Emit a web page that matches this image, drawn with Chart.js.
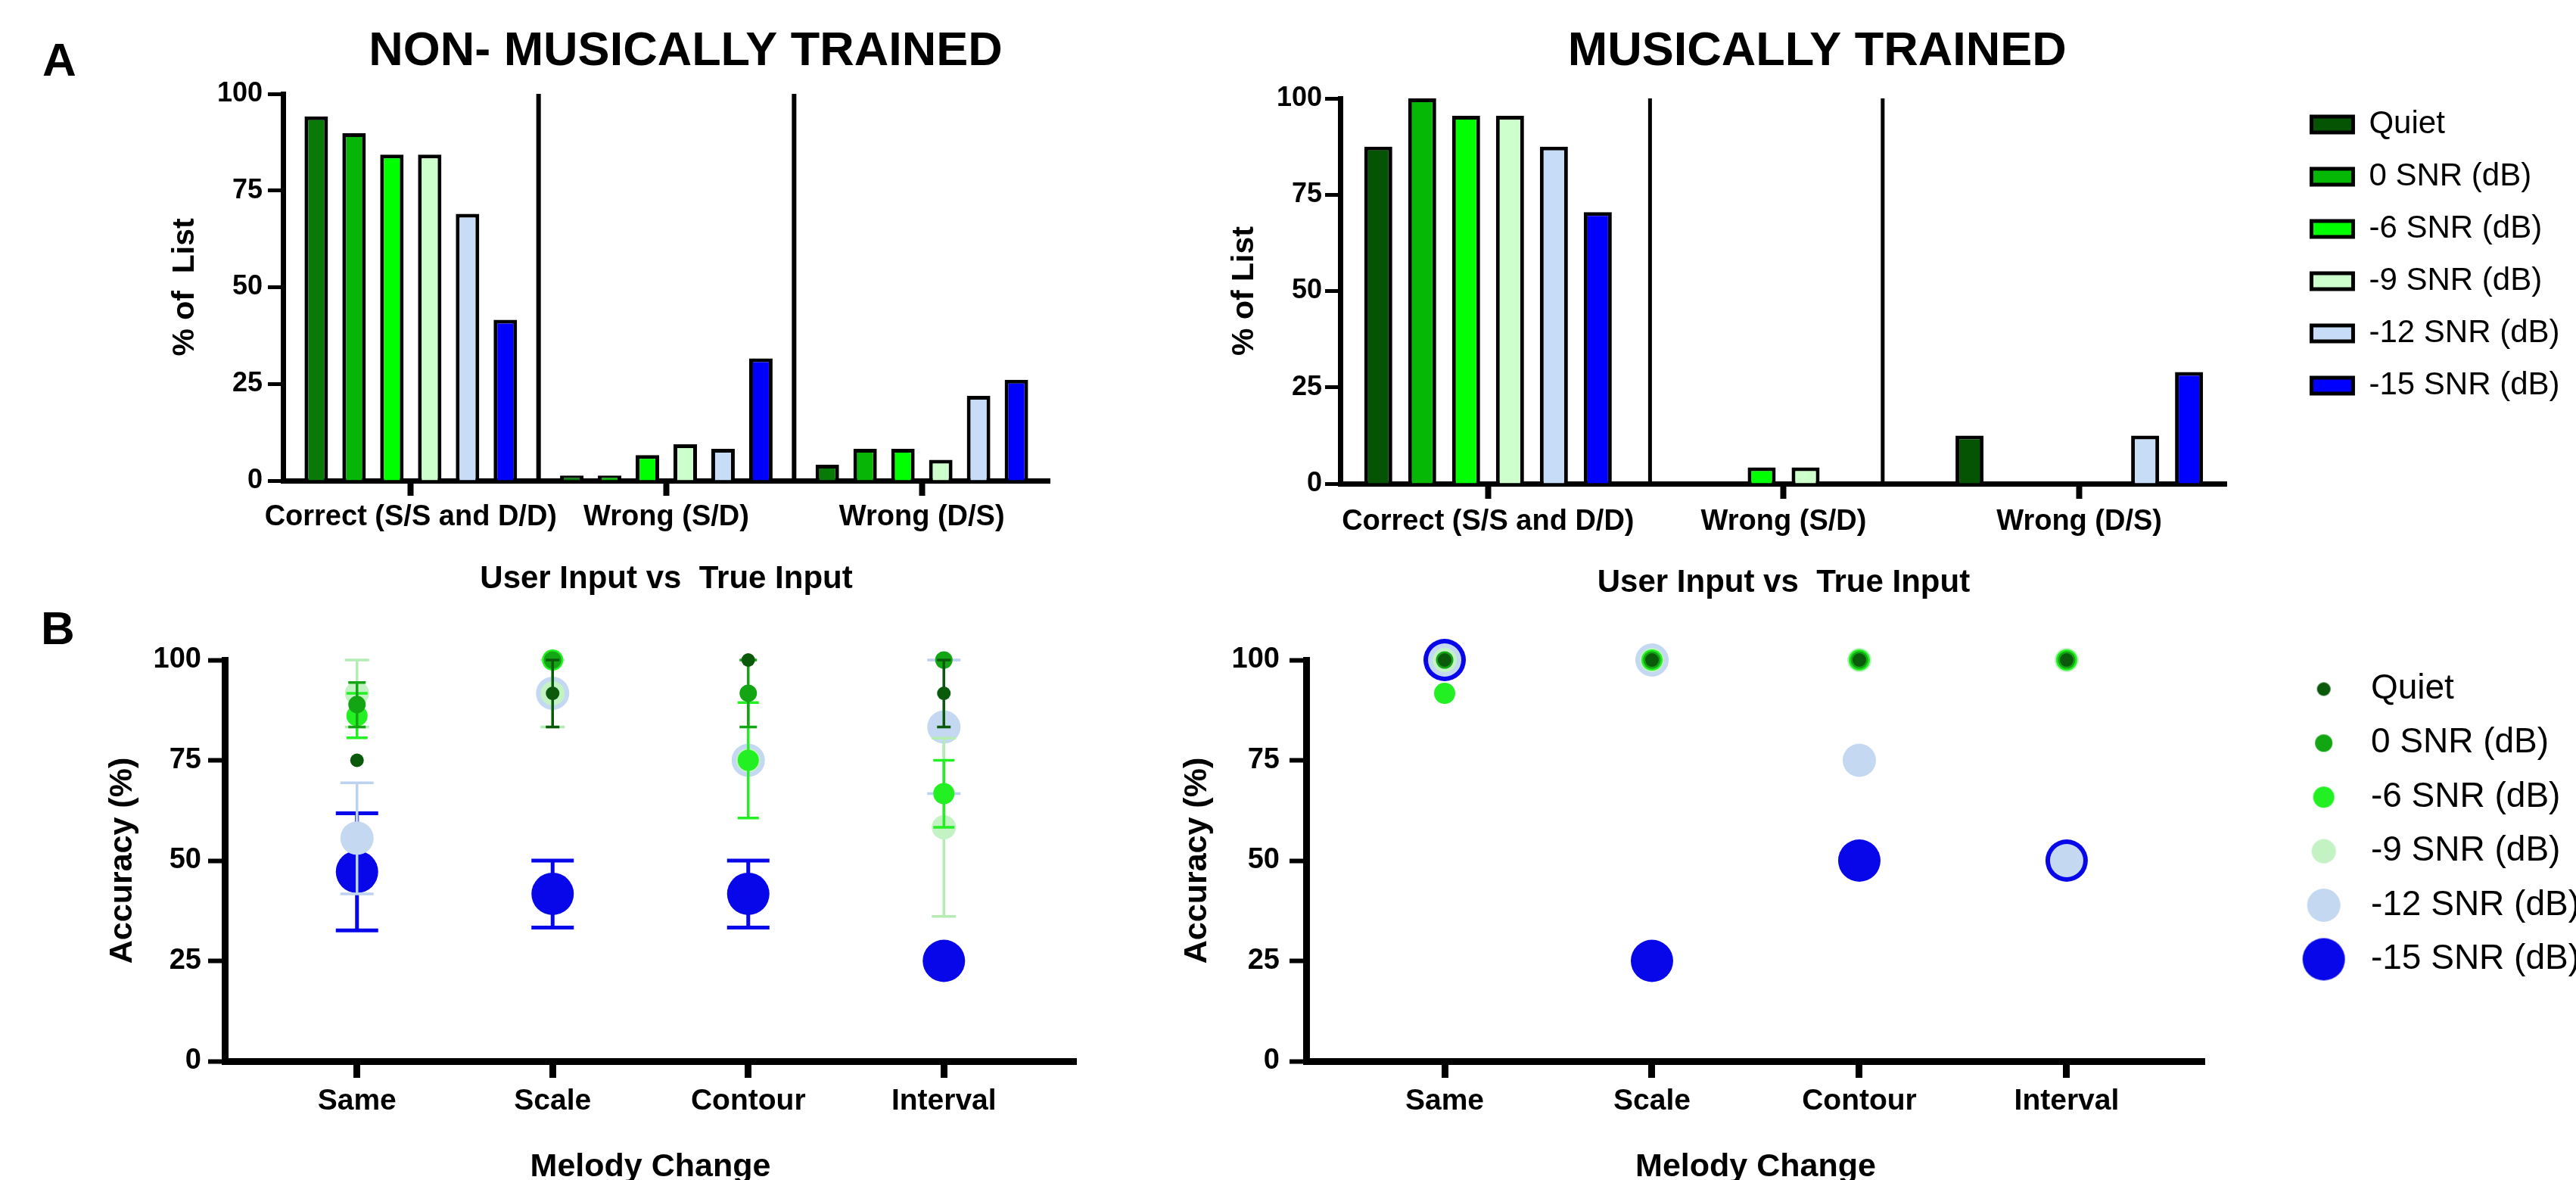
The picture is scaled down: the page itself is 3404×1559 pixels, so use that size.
<!DOCTYPE html>
<html>
<head>
<meta charset="utf-8">
<script src="https://cdn.jsdelivr.net/npm/chart.js@4.4.1/dist/chart.umd.min.js"></script>
<style>
  html, body { margin: 0; padding: 0; background: #fff; width: 3404px; height: 1559px; overflow: hidden; }
  canvas { position: absolute; }
  .letter { position: absolute; font: bold 62px "Liberation Sans", Arial, sans-serif; line-height: 62px; color: #000; }
</style>
</head>
<body>
<div class="letter" style="left:56px; top:48px">A</div>
<div class="letter" style="left:54px; top:799px">B</div>
<canvas id="bars-non" width="1812" height="800" style="left:0; top:0"></canvas>
<canvas id="bars-mus" width="1994" height="800" style="left:1410px; top:0"></canvas>
<canvas id="acc-non" width="1450" height="800" style="left:0; top:800px"></canvas>
<canvas id="acc-mus" width="1924" height="800" style="left:1500px; top:800px"></canvas>
<script>
var conditions = ['Quiet', '0 SNR (dB)', '-6 SNR (dB)', '-9 SNR (dB)', '-12 SNR (dB)', '-15 SNR (dB)'];
var responseTypes = ['Correct (S/S and D/D)', 'Wrong (S/D)', 'Wrong (D/S)'];
var melodyChanges = ['Same', 'Scale', 'Contour', 'Interval'];

// % of list, one row per condition: [correct, wrong S/D, wrong D/S]
var nonTrainedList = [
  [94.2, 1.3, 4.1],
  [89.8, 1.3, 8.2],
  [84.3, 6.6, 8.2],
  [84.3, 9.4, 5.4],
  [69.0, 8.2, 21.9],
  [41.6, 31.6, 26.1]
];
var musTrainedList = [
  [87.5, 0, 12.5],
  [100, 0, 0],
  [95.5, 4.2, 0],
  [95.5, 4.2, 0],
  [87.5, 0, 12.5],
  [70.5, 0, 29.0]
];

// accuracy (%), one row per condition: [Same, Scale, Contour, Interval]
var nonAccuracy = [
  [75, 91.7, 100, 91.7],
  [88.9, 100, 91.7, 100],
  [86.1, 100, 75, 66.7],
  [91.7, 91.7, 75, 58.3],
  [55.6, 91.7, 75, 83.3],
  [47.2, 41.7, 41.7, 25]
];
var nonAccLow = [
  [null, 83.3, null, 83.3],
  [83.3, null, 83.3, null],
  [80.6, null, 60.6, 58.3],
  [83.3, 83.3, null, 36.1],
  [41.7, null, null, 66.7],
  [32.6, 33.3, 33.3, null]
];
var nonAccHigh = [
  [null, 100, null, 100],
  [94.4, null, 100, null],
  [91.7, null, 89.4, 75],
  [100, 100, null, 80.5],
  [69.4, null, null, 100],
  [61.8, 50, 50, null]
];
var musAccuracy = [
  [100, 100, 100, 100],
  [100, 100, 100, 100],
  [91.7, 100, 100, 100],
  [100, 100, 100, 100],
  [100, 100, 75, 50],
  [100, 25, 50, 50]
];

// where the group dividers sit, in category steps
var nonDividers = [0.5, 1.5];
var musDividers = [0.548, 1.335];

var nonBarColors = ['#087a08', '#07b507', '#00ff00', '#ccffcc', '#c7dcf6', '#0000ff'];
var musBarColors = ['#045404', '#05b805', '#00ff00', '#ccffcc', '#c7dcf6', '#0000ff'];
var dotColors = ['#0b5a0b', '#14a514', '#22f022', '#c3f2c3', '#c4d8f2', '#0707ea'];
var errColors = ['#0b5a0b', '#14a514', '#22f022', '#b4ecb4', '#bcd2f0', '#0707ea'];
var dotRadius = [9, 11.5, 14, 16, 22, 28];
var errWidth = [3.5, 3.5, 3.5, 3.5, 3.5, 5];

Chart.defaults.font.family = '"Liberation Sans", Arial, sans-serif';
Chart.defaults.color = '#000';
Chart.defaults.animation = false;
Chart.defaults.events = [];
Chart.defaults.plugins.tooltip.enabled = false;

function bold(size) { return { size: size, weight: 'bold' }; }
function fixWidth(w) { return function (s) { s.width = w; }; }
function fixHeight(h) { return function (s) { s.height = h; }; }

// an axis that only takes room
function spacer(position, size) {
  var vertical = position === 'left' || position === 'right';
  return {
    type: 'linear', position: position, display: true,
    grid: { display: false }, border: { display: false }, ticks: { display: false },
    afterFit: vertical ? fixWidth(size) : fixHeight(size)
  };
}

function dividers(at, width) {
  return {
    id: 'dividers',
    afterDatasetsDraw: function (chart) {
      var x = chart.scales.x, y = chart.scales.y, ctx = chart.ctx;
      var x0 = x.getPixelForValue(0), step = x.getPixelForValue(1) - x0;
      ctx.save();
      ctx.strokeStyle = '#000';
      ctx.lineWidth = width;
      at.forEach(function (v) {
        ctx.beginPath();
        ctx.moveTo(x0 + v * step, y.getPixelForValue(100));
        ctx.lineTo(x0 + v * step, y.getPixelForValue(0));
        ctx.stroke();
      });
      ctx.restore();
    }
  };
}

var errorBars = {
  id: 'errorBars',
  beforeDatasetDraw: function (chart, args) {
    var ds = chart.data.datasets[args.index];
    if (!ds.errLow) return;
    var y = chart.scales.y, ctx = chart.ctx;
    ctx.save();
    ctx.strokeStyle = ds.errColor;
    ctx.lineWidth = ds.errWidth;
    args.meta.data.forEach(function (pt, i) {
      var lo = ds.errLow[i], hi = ds.errHigh[i];
      if (lo == null) return;
      var yl = y.getPixelForValue(lo), yh = y.getPixelForValue(hi), w = ds.pointRadius;
      ctx.beginPath();
      ctx.moveTo(pt.x, yl); ctx.lineTo(pt.x, yh);
      ctx.moveTo(pt.x - w, yl); ctx.lineTo(pt.x + w, yl);
      ctx.moveTo(pt.x - w, yh); ctx.lineTo(pt.x + w, yh);
      ctx.stroke();
    });
    ctx.restore();
  }
};

function barChart(id, c) {
  return new Chart(document.getElementById(id), {
    type: 'bar',
    data: {
      labels: responseTypes,
      datasets: conditions.map(function (name, i) {
        return {
          label: name,
          data: c.values[i],
          backgroundColor: c.colors[i],
          borderColor: '#000',
          borderWidth: 5,
          categoryPercentage: c.catPct,
          barPercentage: c.barPct
        };
      })
    },
    options: {
      responsive: false,
      devicePixelRatio: 1,
      layout: { padding: c.padding },
      plugins: {
        title: { display: true, text: c.title, font: bold(63), color: '#000', padding: c.titlePad },
        legend: c.legend
      },
      scales: {
        x: {
          type: 'category', offset: true, z: 1,
          grid: { display: true, drawOnChartArea: false, offset: false, tickLength: 20, tickWidth: 8, tickColor: '#000' },
          border: { display: true, width: 7, color: '#000' },
          ticks: { font: bold(38), color: '#000', padding: c.xTickPad, maxRotation: 0, minRotation: 0, autoSkip: false },
          title: { display: true, text: 'User Input vs  True Input', font: bold(42), color: '#000', padding: { top: 0, bottom: c.xTitlePad } },
          afterFit: fixHeight(c.xHeight)
        },
        y: {
          min: 0, max: 100,
          grid: { drawOnChartArea: false, tickLength: 20, tickWidth: 5, tickColor: '#000' },
          border: { width: 7, color: '#000' },
          ticks: { stepSize: 25, font: bold(36), color: '#000', padding: c.yTickPad },
          title: { display: true, text: c.yTitle, font: bold(41), color: '#000', padding: { top: c.yTitlePad, bottom: 0 } },
          afterFit: fixWidth(c.yWidth)
        },
        y2: spacer('right', c.rightRoom)
      }
    },
    plugins: [dividers(c.dividers, c.dividerWidth)]
  });
}

barChart('bars-non', {
  title: 'NON- MUSICALLY TRAINED',
  titlePad: { top: 31, bottom: 17.4 },
  values: nonTrainedList, colors: nonBarColors, dividers: nonDividers, dividerWidth: 6,
  catPct: 0.888, barPct: 0.62,
  padding: { top: 0, left: 0, right: 0, bottom: 0 },
  yTitle: '% of  List', yTitlePad: 220.4, yWidth: 374, yTickPad: 7,
  xHeight: 165, xTickPad: 6.2, xTitlePad: 9.8,
  rightRoom: 425,
  legend: { display: false }
});

barChart('bars-mus', {
  title: 'MUSICALLY TRAINED',
  titlePad: { top: 31, bottom: 23.4 },
  values: musTrainedList, colors: musBarColors, dividers: musDividers, dividerWidth: 5,
  catPct: 0.891, barPct: 0.638,
  padding: { top: 0, left: 0, right: 11.5, bottom: 0 },
  yTitle: '% of List', yTitlePad: 210.4, yWidth: 361, yTickPad: 4,
  xHeight: 161, xTickPad: 8.2, xTitlePad: 4.8,
  rightRoom: 84.5,
  legend: {
    display: true, position: 'right', align: 'start', maxWidth: 600,
    title: { display: true, text: '', font: { size: 10 }, padding: { top: 104.6, bottom: 0 } },
    labels: { boxWidth: 55, boxHeight: 21, padding: 27, font: { size: 42 }, color: '#000' }
  }
});

// legend markers keep each condition's own dot size
var markerImages = dotRadius.map(function (r, i) {
  var cv = document.createElement('canvas');
  cv.width = cv.height = Math.ceil(2 * r + 2);
  var g = cv.getContext('2d');
  g.fillStyle = dotColors[i];
  g.beginPath();
  g.arc(cv.width / 2, cv.height / 2, r, 0, 2 * Math.PI);
  g.fill();
  return cv;
});

function dotChart(id, c) {
  var scales = {
    x: {
      type: 'linear', min: c.xMin, max: c.xMax,
      afterBuildTicks: function (s) { s.ticks = melodyChanges.map(function (m, k) { return { value: k + 1 }; }); },
      grid: { drawOnChartArea: false, tickLength: 22, tickWidth: 9, tickColor: '#000' },
      border: { width: 9, color: '#000' },
      ticks: { font: bold(39), color: '#000', padding: 7.6, maxRotation: 0, autoSkip: false,
        callback: function (v) { return melodyChanges[v - 1]; } },
      title: { display: true, text: 'Melody Change', font: bold(43), color: '#000', padding: { top: 0, bottom: 32 } },
      afterFit: fixHeight(198)
    },
    y: {
      min: 0, max: 100,
      grid: { drawOnChartArea: false, tickLength: 22, tickWidth: 6, tickColor: '#000' },
      border: { width: 9, color: '#000' },
      ticks: { stepSize: 25, font: bold(38), color: '#000', padding: c.yTickPad },
      title: { display: true, text: 'Accuracy (%)', font: bold(43), color: '#000', padding: { top: c.yTitlePad, bottom: 0 } },
      afterFit: fixWidth(c.yWidth)
    }
  };
  if (c.topRoom) scales.x2 = spacer('top', c.topRoom);
  if (c.rightRoom) scales.y2 = spacer('right', c.rightRoom);

  return new Chart(document.getElementById(id), {
    type: 'scatter',
    data: {
      datasets: conditions.map(function (name, i) {
        return {
          label: name,
          xAxisID: 'x', yAxisID: 'y',
          data: c.values[i].map(function (v, k) { return { x: k + 1, y: v }; }),
          pointRadius: dotRadius[i],
          pointHoverRadius: dotRadius[i],
          pointBorderWidth: 0,
          backgroundColor: dotColors[i],
          borderColor: dotColors[i],
          clip: false,
          errLow: c.low ? c.low[i] : null,
          errHigh: c.high ? c.high[i] : null,
          errColor: errColors[i],
          errWidth: errWidth[i]
        };
      })
    },
    options: {
      responsive: false,
      devicePixelRatio: 1,
      layout: { padding: c.padding },
      plugins: { legend: c.legend },
      scales: scales
    },
    plugins: [errorBars]
  });
}

dotChart('acc-non', {
  values: nonAccuracy, low: nonAccLow, high: nonAccHigh,
  xMin: 0.324, xMax: 4.676,
  padding: { top: 72, left: 0, right: 27, bottom: 0 },
  yWidth: 297, yTickPad: 9, yTitlePad: 136.2,
  legend: { display: false }
});

dotChart('acc-mus', {
  values: musAccuracy,
  xMin: 0.332, xMax: 4.668,
  padding: { top: 62, left: 0, right: 5, bottom: 0 },
  yWidth: 226, yTickPad: 13, yTitlePad: 56.2,
  topRoom: 10, rightRoom: 92,
  legend: {
    display: true, position: 'right', align: 'start', maxWidth: 600,
    labels: {
      usePointStyle: true, pointStyleWidth: 78.6, padding: 25.4,
      font: { size: 46 }, color: '#000',
      generateLabels: function (chart) {
        return Chart.defaults.plugins.legend.labels.generateLabels(chart).map(function (item, i) {
          item.pointStyle = markerImages[i];
          return item;
        });
      }
    }
  }
});
</script>
</body>
</html>
